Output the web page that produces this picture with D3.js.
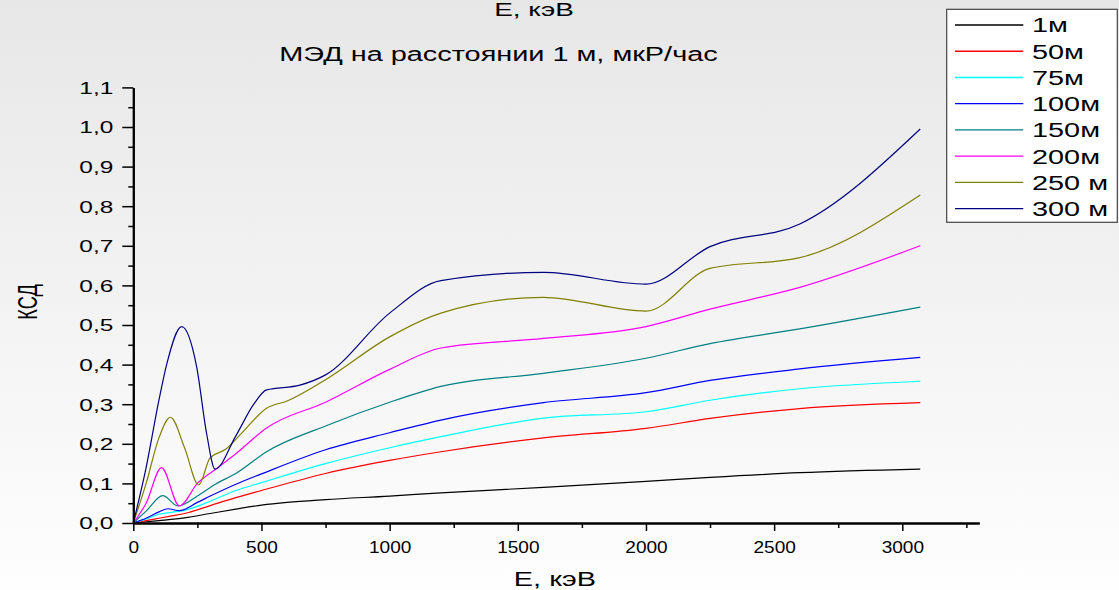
<!DOCTYPE html>
<html><head><meta charset="utf-8">
<script src="https://cdn.jsdelivr.net/npm/d3@7"></script>
<style>
html,body{margin:0;padding:0;background:#fff;}
svg{display:block;font-family:"Liberation Sans",Arial,sans-serif;}
</style></head>
<body>
<svg id="chart" width="1119" height="590"></svg>
<script>
// ---- data ----
const seriesNames = ["1м","50м","75м","100м","150м","200м","250 м","300 м"];
const seriesColors = ["#000000","#ff0000","#00ffff","#0000ff","#008080","#ff00ff","#808000","#000080"];
const xTicks = [0,500,1000,1500,2000,2500,3000];
const yTicks = [0,0.1,0.2,0.3,0.4,0.5,0.6,0.7,0.8,0.9,1.0,1.1];
const s1   = [[0,0],[100,0.006],[200,0.013],[300,0.024],[400,0.035],[500,0.045],[600,0.052],[750,0.059],[1000,0.068],[1200,0.076],[1600,0.09],[2000,0.105],[2250,0.115],[2600,0.127],[3070,0.136]];
const s50  = [[0,0],[50,0.006],[100,0.012],[150,0.018],[200,0.024],[300,0.044],[400,0.064],[500,0.082],[750,0.125],[1000,0.158],[1200,0.18],[1600,0.215],[2000,0.239],[2250,0.264],[2600,0.289],[3070,0.304]];
const s75  = [[0,0],[50,0.01],[100,0.022],[150,0.027],[200,0.032],[300,0.055],[400,0.082],[500,0.102],[750,0.15],[1000,0.19],[1200,0.218],[1600,0.265],[2000,0.281],[2250,0.31],[2600,0.339],[3070,0.358]];
const s100 = [[0,0],[50,0.012],[100,0.028],[135,0.036],[180,0.031],[250,0.052],[300,0.068],[400,0.098],[500,0.124],[750,0.185],[1000,0.228],[1200,0.26],[1600,0.304],[2000,0.329],[2250,0.36],[2600,0.389],[3070,0.418]];
const s150 = [[0,0],[50,0.03],[115,0.069],[175,0.043],[250,0.068],[320,0.098],[400,0.125],[520,0.18],[750,0.245],[1000,0.305],[1200,0.345],[1600,0.378],[2000,0.416],[2250,0.453],[2600,0.49],[3070,0.545]];
const s200 = [[0,0],[50,0.05],[110,0.14],[180,0.043],[250,0.1],[320,0.135],[400,0.175],[520,0.24],[750,0.305],[1000,0.388],[1200,0.442],[1600,0.466],[2000,0.496],[2250,0.54],[2600,0.595],[3070,0.70]];
const s250 = [[0,0],[50,0.1],[100,0.215],[145,0.267],[200,0.19],[255,0.096],[300,0.165],[360,0.186],[420,0.225],[520,0.29],[600,0.308],[750,0.362],[1000,0.47],[1200,0.53],[1600,0.57],[2000,0.535],[2250,0.643],[2600,0.67],[3070,0.828]];
const s300 = [[0,0],[50,0.14],[100,0.31],[130,0.4],[189,0.496],[247,0.395],[286,0.226],[319,0.136],[400,0.22],[470,0.3],[520,0.336],[650,0.348],[750,0.374],[1000,0.53],[1200,0.612],[1600,0.633],[2000,0.603],[2250,0.698],[2600,0.755],[3070,0.995]];
const seriesData = [s1,s50,s75,s100,s150,s200,s250,s300];

// ---- layout ----
const SX = 1.48; // horizontal stretch of text in reference
const svg = d3.select("#chart");
const defs = svg.append("defs");
const grad = defs.append("linearGradient").attr("id","bg").attr("x1",0).attr("y1",0).attr("x2",0).attr("y2",1);
grad.append("stop").attr("offset","0%").attr("stop-color","#e7e7e7");
grad.append("stop").attr("offset","100%").attr("stop-color","#fefefe");
svg.append("rect").attr("width",1119).attr("height",590).attr("fill","url(#bg)");

const x = d3.scaleLinear().domain([0,3300]).range([133.3,979.2]);
const y = d3.scaleLinear().domain([0,1.1]).range([523,87.4]);

function stretch(sel, f){
  sel.each(function(){
    const L = this.getComputedTextLength();
    d3.select(this).attr("textLength", L*f).attr("lengthAdjust","spacingAndGlyphs");
  });
}

// lines
const line = d3.line().x(d=>x(d[0])).y(d=>y(d[1])).curve(d3.curveMonotoneX);
const gLines = svg.append("g");
seriesData.forEach((s,i)=>{
  gLines.append("path").attr("d",line(s)).attr("fill","none")
    .attr("stroke",seriesColors[i]).attr("stroke-width",1.2);
});

// axes
const xMinor = d3.range(250,3300,500);
const yMinor = d3.range(0.05,1.1,0.1);
const gx = svg.append("g").attr("transform",`translate(0,${y(0)})`);
gx.call(d3.axisBottom(x).tickValues(xMinor).tickSize(5).tickSizeOuter(0).tickFormat(""));
gx.call(g=>g.append("g").call(d3.axisBottom(x).tickValues(xTicks).tickSize(8).tickSizeOuter(0).tickFormat(d3.format("d"))));
gx.selectAll(".domain").attr("stroke","#000").attr("stroke-width",2);
gx.selectAll(".tick line").attr("stroke","#000").attr("stroke-width",1.5);
gx.selectAll(".tick text").attr("font-size","17px").attr("fill","#000").attr("y",18).attr("dy","0.71em");

const gy = svg.append("g").attr("transform",`translate(${x(0)},0)`);
gy.call(d3.axisLeft(y).tickValues(yMinor).tickSize(5).tickSizeOuter(0).tickFormat(""));
gy.call(g=>g.append("g").call(d3.axisLeft(y).tickValues(yTicks).tickSize(11).tickSizeOuter(0).tickFormat(d=>d.toFixed(1).replace(".",","))));
gy.selectAll(".domain").attr("stroke","#000").attr("stroke-width",2);
gy.selectAll(".tick line").attr("stroke","#000").attr("stroke-width",1.5);
gy.selectAll(".tick text").attr("font-size","16.5px").attr("fill","#000").attr("x",-20).attr("dy","0.36em");

stretch(gx.selectAll(".tick text"),1.12);
stretch(gy.selectAll(".tick text"),SX);

// titles
const t1 = svg.append("text").attr("x",534).attr("y",16).attr("text-anchor","middle").attr("font-size","18.5px").text("E, кэВ");
const t2 = svg.append("text").attr("x",498.5).attr("y",61).attr("text-anchor","middle").attr("font-size","19.5px").text("МЭД на расстоянии 1 м, мкР/час");
const t3 = svg.append("text").attr("x",555).attr("y",586).attr("text-anchor","middle").attr("font-size","19.5px").text("E, кэВ");
stretch(t1,SX*1.02); stretch(t2,SX); stretch(t3,SX);
const t4 = svg.append("text").attr("transform","translate(37,302) rotate(-90)").attr("text-anchor","middle").attr("font-size","27px").text("КСД");
stretch(t4,1/SX);

// legend
const lg = svg.append("g");
lg.append("rect").attr("x",946.7).attr("y",9.3).attr("width",170.6).attr("height",213).attr("fill","#fff").attr("stroke","#444").attr("stroke-width",1.2);
seriesNames.forEach((n,i)=>{
  const by = 32.3 + i*26.24;
  lg.append("line").attr("x1",955).attr("x2",1023.3).attr("y1",by-7.3).attr("y2",by-7.3).attr("stroke",seriesColors[i]).attr("stroke-width",1.3);
  const t = lg.append("text").attr("x",1032).attr("y",by).attr("font-size","19.5px").text(n);
  stretch(t,SX);
});
</script>
</body></html>
